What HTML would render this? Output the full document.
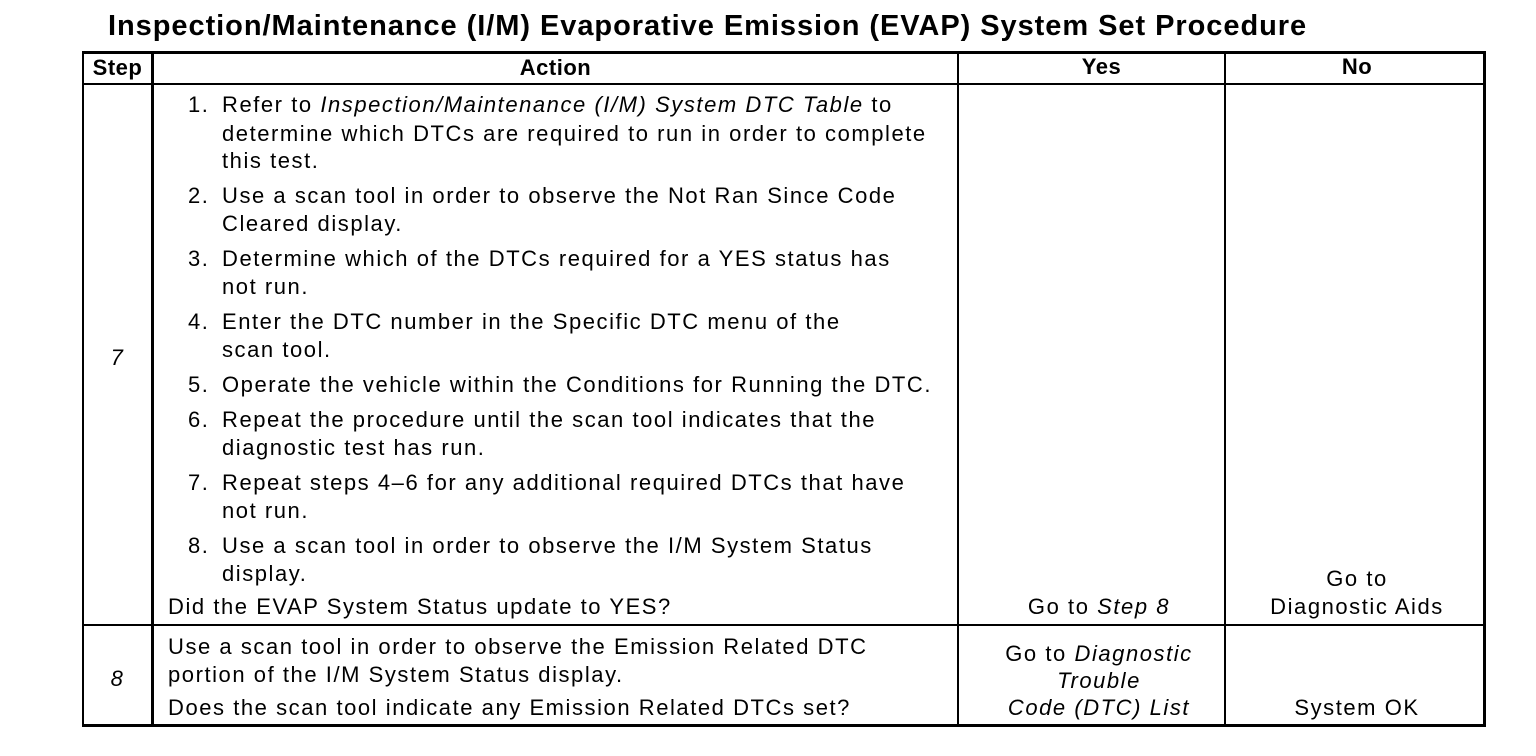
<!DOCTYPE html>
<html><head><style>
body{margin:0;width:1536px;height:756px;background:#fff;position:relative;overflow:hidden;font-family:"Liberation Sans",sans-serif;color:#000}
.t{position:absolute;font-size:22px;line-height:24px;white-space:nowrap;letter-spacing:1.55px}
.c{text-align:center}
.l{position:absolute;background:#000}
i{font-style:italic}
</style></head><body>
<div class="t" style="left:108px;top:10px;font-size:29px;line-height:32px;font-weight:bold;letter-spacing:0.95px">Inspection/Maintenance (I/M) Evaporative Emission (EVAP) System Set Procedure</div>
<div class="l" style="left:82px;top:51px;width:1403px;height:3px"></div>
<div class="l" style="left:82px;top:83px;width:1403px;height:2px"></div>
<div class="l" style="left:82px;top:624px;width:1403px;height:2px"></div>
<div class="l" style="left:82px;top:724px;width:1403px;height:3px"></div>
<div class="l" style="left:82px;top:51px;width:2px;height:676px"></div>
<div class="l" style="left:151px;top:51px;width:3px;height:676px"></div>
<div class="l" style="left:957px;top:51px;width:2px;height:676px"></div>
<div class="l" style="left:1224px;top:51px;width:2px;height:676px"></div>
<div class="l" style="left:1483px;top:51px;width:3px;height:676px"></div>
<div class="t c" style="left:84px;width:67px;top:56px;font-weight:bold;letter-spacing:0.5px">Step</div>
<div class="t c" style="left:154px;width:803px;top:56px;font-weight:bold;letter-spacing:0.5px">Action</div>
<div class="t c" style="left:959px;width:285px;top:55px;font-weight:bold;letter-spacing:0.5px">Yes</div>
<div class="t c" style="left:1226px;width:262px;top:55px;font-weight:bold;letter-spacing:0.5px">No</div>
<div class="t c" style="left:84px;width:67px;top:346px"><i>7</i></div>
<div class="t" style="left:188px;top:93px">1.</div>
<div class="t" style="left:222px;top:93px">Refer to <i>Inspection/Maintenance (I/M) System DTC Table</i> to</div>
<div class="t" style="left:222px;top:122px">determine which DTCs are required to run in order to complete</div>
<div class="t" style="left:222px;top:149px">this test.</div>
<div class="t" style="left:188px;top:184px">2.</div>
<div class="t" style="left:222px;top:184px">Use a scan tool in order to observe the Not Ran Since Code</div>
<div class="t" style="left:222px;top:212px">Cleared display.</div>
<div class="t" style="left:188px;top:247px">3.</div>
<div class="t" style="left:222px;top:247px">Determine which of the DTCs required for a YES status has</div>
<div class="t" style="left:222px;top:275px">not run.</div>
<div class="t" style="left:188px;top:310px">4.</div>
<div class="t" style="left:222px;top:310px">Enter the DTC number in the Specific DTC menu of the</div>
<div class="t" style="left:222px;top:338px">scan tool.</div>
<div class="t" style="left:188px;top:373px">5.</div>
<div class="t" style="left:222px;top:373px">Operate the vehicle within the Conditions for Running the DTC.</div>
<div class="t" style="left:188px;top:408px">6.</div>
<div class="t" style="left:222px;top:408px">Repeat the procedure until the scan tool indicates that the</div>
<div class="t" style="left:222px;top:436px">diagnostic test has run.</div>
<div class="t" style="left:188px;top:471px">7.</div>
<div class="t" style="left:222px;top:471px">Repeat steps 4–6 for any additional required DTCs that have</div>
<div class="t" style="left:222px;top:499px">not run.</div>
<div class="t" style="left:188px;top:534px">8.</div>
<div class="t" style="left:222px;top:534px">Use a scan tool in order to observe the I/M System Status</div>
<div class="t" style="left:222px;top:562px">display.</div>
<div class="t" style="left:168px;top:595px">Did the EVAP System Status update to YES?</div>
<div class="t c" style="left:959px;width:280px;top:595px">Go to <i>Step 8</i></div>
<div class="t c" style="left:1226px;width:262px;top:567px">Go to</div>
<div class="t c" style="left:1226px;width:262px;top:595px">Diagnostic Aids</div>
<div class="t c" style="left:84px;width:67px;top:667px"><i>8</i></div>
<div class="t" style="left:168px;top:635px">Use a scan tool in order to observe the Emission Related DTC</div>
<div class="t" style="left:168px;top:663px">portion of the I/M System Status display.</div>
<div class="t" style="left:168px;top:696px">Does the scan tool indicate any Emission Related DTCs set?</div>
<div class="t c" style="left:959px;width:280px;top:642px">Go to <i>Diagnostic</i></div>
<div class="t c" style="left:959px;width:280px;top:669px"><i>Trouble</i></div>
<div class="t c" style="left:959px;width:280px;top:696px"><i>Code (DTC) List</i></div>
<div class="t c" style="left:1226px;width:262px;top:696px">System OK</div>
</body></html>
